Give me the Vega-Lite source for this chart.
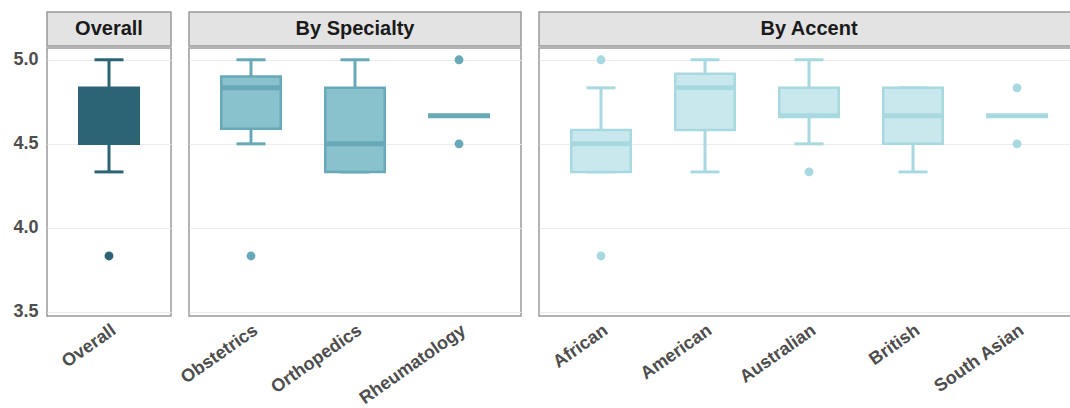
{
  "$schema": "https://vega.github.io/schema/vega-lite/v6.json",
  "background": "white",
  "padding": {"left": 12, "top": 11, "right": 0, "bottom": 0},
  "config": {
    "font": "Liberation Sans",
    "axis": {"ticks": false, "domain": false, "title": null, "gridColor": "#ebebeb", "gridWidth": 1.2, "labelColor": "#4d4d4d", "labelFontWeight": "bold", "labelFont": "Liberation Sans"}
  },
  "datasets": {
    "panels": [
      {"panel": "Overall"},
      {"panel": "By Specialty"},
      {"panel": "By Accent"}
    ],
    "boxes": [
      {"panel": "Overall", "cat": "Overall", "lower": 4.333, "q1": 4.5, "median": 4.667, "q3": 4.833, "upper": 5.0},
      {"panel": "By Specialty", "cat": "Obstetrics", "lower": 4.5, "q1": 4.59, "median": 4.833, "q3": 4.9, "upper": 5.0},
      {"panel": "By Specialty", "cat": "Orthopedics", "lower": 4.333, "q1": 4.333, "median": 4.5, "q3": 4.833, "upper": 5.0},
      {"panel": "By Specialty", "cat": "Rheumatology", "lower": 4.667, "q1": 4.667, "median": 4.667, "q3": 4.667, "upper": 4.667},
      {"panel": "By Accent", "cat": "African", "lower": 4.333, "q1": 4.333, "median": 4.5, "q3": 4.583, "upper": 4.833},
      {"panel": "By Accent", "cat": "American", "lower": 4.333, "q1": 4.583, "median": 4.833, "q3": 4.917, "upper": 5.0},
      {"panel": "By Accent", "cat": "Australian", "lower": 4.5, "q1": 4.667, "median": 4.667, "q3": 4.833, "upper": 5.0},
      {"panel": "By Accent", "cat": "British", "lower": 4.333, "q1": 4.5, "median": 4.667, "q3": 4.833, "upper": 4.833},
      {"panel": "By Accent", "cat": "South Asian", "lower": 4.667, "q1": 4.667, "median": 4.667, "q3": 4.667, "upper": 4.667}
    ],
    "outliers": [
      {"panel": "Overall", "cat": "Overall", "value": 3.833},
      {"panel": "By Specialty", "cat": "Obstetrics", "value": 3.833},
      {"panel": "By Specialty", "cat": "Rheumatology", "value": 5.0},
      {"panel": "By Specialty", "cat": "Rheumatology", "value": 4.5},
      {"panel": "By Accent", "cat": "African", "value": 5.0},
      {"panel": "By Accent", "cat": "African", "value": 3.833},
      {"panel": "By Accent", "cat": "Australian", "value": 4.333},
      {"panel": "By Accent", "cat": "South Asian", "value": 4.833},
      {"panel": "By Accent", "cat": "South Asian", "value": 4.5}
    ]
  },
  "columns": 3,
  "align": "each",
  "bounds": "flush",
  "spacing": {"row": 2, "column": 18},
  "resolve": {"scale": {"x": "independent", "y": "independent"}},
  "concat": [
    {
      "width": 124, "height": 34,
      "view": {"fill": "#e3e3e3", "stroke": "#999999", "strokeWidth": 1.5},
      "data": {"name": "panels"},
      "transform": [{"filter": "datum.panel === 'Overall'"}],
      "mark": {"type": "text", "fontSize": 20, "fontWeight": "bold", "color": "#1a1a1a"},
      "encoding": {"text": {"field": "panel"}}
    },
    {
      "width": 332, "height": 34,
      "view": {"fill": "#e3e3e3", "stroke": "#999999", "strokeWidth": 1.5},
      "data": {"name": "panels"},
      "transform": [{"filter": "datum.panel === 'By Specialty'"}],
      "mark": {"type": "text", "fontSize": 20, "fontWeight": "bold", "color": "#1a1a1a"},
      "encoding": {"text": {"field": "panel"}}
    },
    {
      "width": 540, "height": 34,
      "view": {"fill": "#e3e3e3", "stroke": "#999999", "strokeWidth": 1.5},
      "data": {"name": "panels"},
      "transform": [{"filter": "datum.panel === 'By Accent'"}],
      "mark": {"type": "text", "fontSize": 20, "fontWeight": "bold", "color": "#1a1a1a"},
      "encoding": {"text": {"field": "panel"}}
    },
    {
      "width": 124, "height": 268,
      "view": {"stroke": "#9a9a9a", "strokeWidth": 1.5},
      "encoding": {
        "x": {"field": "cat", "type": "nominal", "sort": null, "scale": {"paddingInner": 0, "paddingOuter": 0.096}, "axis": {"labelAngle": -35, "labelAlign": "right", "labelBaseline": "top", "labelFontSize": 18, "labelPadding": 5}}
      },
      "layer": [
        {
          "data": {"name": "boxes"}, "transform": [{"filter": "datum.panel === 'Overall'"}],
          "mark": {"type": "rule", "color": "#2c6475", "strokeWidth": 3},
          "encoding": {
            "y": {"field": "lower", "type": "quantitative", "scale": {"domain": [3.476, 5.07], "nice": false, "zero": false}, "axis": {"values": [3.5, 4.0, 4.5, 5.0], "format": ".1f", "labelFontSize": 18, "labelPadding": 9, "grid": true}},
            "y2": {"field": "upper"}
          }
        },
        {
          "data": {"name": "boxes"}, "transform": [{"filter": "datum.panel === 'Overall'"}],
          "mark": {"type": "tick", "color": "#2c6475", "size": 29, "thickness": 3, "opacity": 1},
          "encoding": {"y": {"field": "lower", "type": "quantitative"}}
        },
        {
          "data": {"name": "boxes"}, "transform": [{"filter": "datum.panel === 'Overall'"}],
          "mark": {"type": "tick", "color": "#2c6475", "size": 29, "thickness": 3, "opacity": 1},
          "encoding": {"y": {"field": "upper", "type": "quantitative"}}
        },
        {
          "data": {"name": "boxes"}, "transform": [{"filter": "datum.panel === 'Overall'"}],
          "mark": {"type": "bar", "fill": "#2c6475", "stroke": "#2c6475", "strokeWidth": 2.5, "size": 59.5, "opacity": 1},
          "encoding": {"y": {"field": "q1", "type": "quantitative"}, "y2": {"field": "q3"}}
        },
        {
          "data": {"name": "boxes"}, "transform": [{"filter": "datum.panel === 'Overall'"}],
          "mark": {"type": "tick", "color": "#2c6475", "size": 62, "thickness": 5, "opacity": 1},
          "encoding": {"y": {"field": "median", "type": "quantitative"}}
        },
        {
          "data": {"name": "outliers"}, "transform": [{"filter": "datum.panel === 'Overall'"}],
          "mark": {"type": "circle", "color": "#2c6475", "size": 78, "opacity": 1},
          "encoding": {"y": {"field": "value", "type": "quantitative"}}
        }
      ]
    },
    {
      "width": 332, "height": 268,
      "view": {"stroke": "#9a9a9a", "strokeWidth": 1.5},
      "encoding": {
        "x": {"field": "cat", "type": "nominal", "sort": null, "scale": {"paddingInner": 0, "paddingOuter": 0.096}, "axis": {"labelAngle": -35, "labelAlign": "right", "labelBaseline": "top", "labelFontSize": 18, "labelPadding": 5}}
      },
      "layer": [
        {
          "data": {"name": "boxes"}, "transform": [{"filter": "datum.panel === 'By Specialty'"}],
          "mark": {"type": "rule", "color": "#67a9b6", "strokeWidth": 3},
          "encoding": {
            "y": {"field": "lower", "type": "quantitative", "scale": {"domain": [3.476, 5.07], "nice": false, "zero": false}, "axis": {"values": [3.5, 4.0, 4.5, 5.0], "labels": false, "grid": true}},
            "y2": {"field": "upper"}
          }
        },
        {
          "data": {"name": "boxes"}, "transform": [{"filter": "datum.panel === 'By Specialty'"}],
          "mark": {"type": "tick", "color": "#67a9b6", "size": 29, "thickness": 3, "opacity": 1},
          "encoding": {"y": {"field": "lower", "type": "quantitative"}}
        },
        {
          "data": {"name": "boxes"}, "transform": [{"filter": "datum.panel === 'By Specialty'"}],
          "mark": {"type": "tick", "color": "#67a9b6", "size": 29, "thickness": 3, "opacity": 1},
          "encoding": {"y": {"field": "upper", "type": "quantitative"}}
        },
        {
          "data": {"name": "boxes"}, "transform": [{"filter": "datum.panel === 'By Specialty'"}],
          "mark": {"type": "bar", "fill": "#89c1cc", "stroke": "#67a9b6", "strokeWidth": 2.5, "size": 59.5, "opacity": 1},
          "encoding": {"y": {"field": "q1", "type": "quantitative"}, "y2": {"field": "q3"}}
        },
        {
          "data": {"name": "boxes"}, "transform": [{"filter": "datum.panel === 'By Specialty'"}],
          "mark": {"type": "tick", "color": "#67a9b6", "size": 62, "thickness": 5, "opacity": 1},
          "encoding": {"y": {"field": "median", "type": "quantitative"}}
        },
        {
          "data": {"name": "outliers"}, "transform": [{"filter": "datum.panel === 'By Specialty'"}],
          "mark": {"type": "circle", "color": "#67a9b6", "size": 78, "opacity": 1},
          "encoding": {"y": {"field": "value", "type": "quantitative"}}
        }
      ]
    },
    {
      "width": 540, "height": 268,
      "view": {"stroke": "#9a9a9a", "strokeWidth": 1.5},
      "encoding": {
        "x": {"field": "cat", "type": "nominal", "sort": null, "scale": {"paddingInner": 0, "paddingOuter": 0.096}, "axis": {"labelAngle": -35, "labelAlign": "right", "labelBaseline": "top", "labelFontSize": 18, "labelPadding": 5}}
      },
      "layer": [
        {
          "data": {"name": "boxes"}, "transform": [{"filter": "datum.panel === 'By Accent'"}],
          "mark": {"type": "rule", "color": "#a8d9e0", "strokeWidth": 3},
          "encoding": {
            "y": {"field": "lower", "type": "quantitative", "scale": {"domain": [3.476, 5.07], "nice": false, "zero": false}, "axis": {"values": [3.5, 4.0, 4.5, 5.0], "labels": false, "grid": true}},
            "y2": {"field": "upper"}
          }
        },
        {
          "data": {"name": "boxes"}, "transform": [{"filter": "datum.panel === 'By Accent'"}],
          "mark": {"type": "tick", "color": "#a8d9e0", "size": 29, "thickness": 3, "opacity": 1},
          "encoding": {"y": {"field": "lower", "type": "quantitative"}}
        },
        {
          "data": {"name": "boxes"}, "transform": [{"filter": "datum.panel === 'By Accent'"}],
          "mark": {"type": "tick", "color": "#a8d9e0", "size": 29, "thickness": 3, "opacity": 1},
          "encoding": {"y": {"field": "upper", "type": "quantitative"}}
        },
        {
          "data": {"name": "boxes"}, "transform": [{"filter": "datum.panel === 'By Accent'"}],
          "mark": {"type": "bar", "fill": "#c8e8ee", "stroke": "#a8d9e0", "strokeWidth": 2.5, "size": 59.5, "opacity": 1},
          "encoding": {"y": {"field": "q1", "type": "quantitative"}, "y2": {"field": "q3"}}
        },
        {
          "data": {"name": "boxes"}, "transform": [{"filter": "datum.panel === 'By Accent'"}],
          "mark": {"type": "tick", "color": "#a8d9e0", "size": 62, "thickness": 5, "opacity": 1},
          "encoding": {"y": {"field": "median", "type": "quantitative"}}
        },
        {
          "data": {"name": "outliers"}, "transform": [{"filter": "datum.panel === 'By Accent'"}],
          "mark": {"type": "circle", "color": "#a8d9e0", "size": 78, "opacity": 1},
          "encoding": {"y": {"field": "value", "type": "quantitative"}}
        }
      ]
    }
  ]
}
